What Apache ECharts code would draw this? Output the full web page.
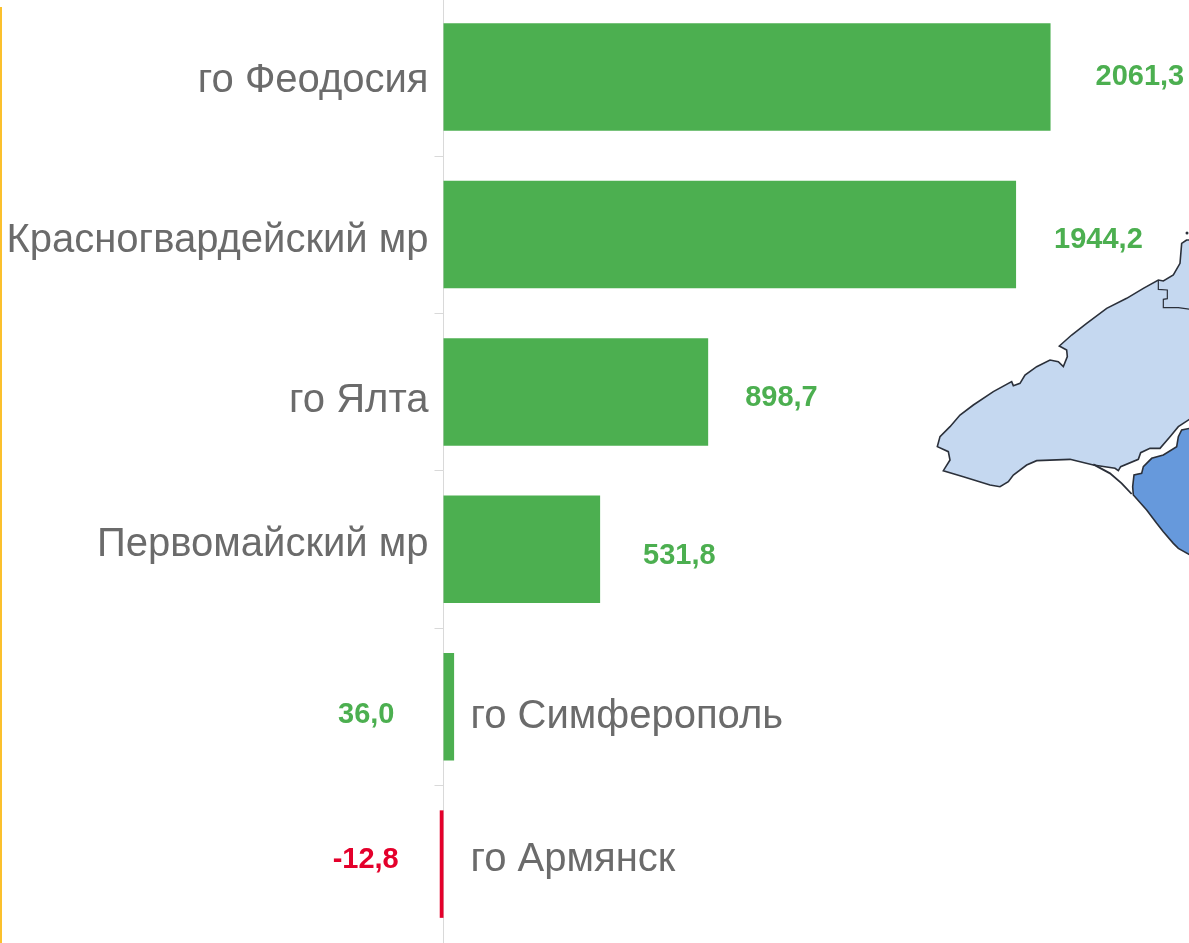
<!DOCTYPE html>
<html>
<head>
<meta charset="utf-8">
<style>
html,body{margin:0;padding:0;background:#fff;overflow:hidden;height:943px;}
/* canvas starts 2px above the page, the top axis tick is cropped in the source */
#chart{width:1189px;height:945px;margin-top:-2px;}
</style>
<script src="https://cdn.jsdelivr.net/npm/echarts@6/dist/echarts.min.js"></script>
</head>
<body>
<div id="chart"></div>
<script>
// chart data
var categories = ['го Феодосия', 'Красногвардейский мр', 'го Ялта', 'Первомайский мр', 'го Симферополь', 'го Армянск'];
var values = [2061.3, 1944.2, 898.7, 531.8, 36.0, -12.8];

var GREEN = '#4CAF50', RED = '#E4002B', GREY = '#6B6B6B';
var FONT = '"Liberation Sans", Arial, sans-serif';

// hand placed labels, the source chart has them all over the place
var valueLabelLayout = [
	{position: 'right', distance: 45, offset: [0, -0.5]},
	{position: 'right', distance: 38, offset: [0, 5]},
	{position: 'right', distance: 37, offset: [0, 6]},
	{position: 'right', distance: 43, offset: [0, 7]},
	{position: 'left', distance: 49, offset: [0, 8.5]},
	{position: 'left', distance: 41, offset: [0, -4]}
];
var nameLabelLayout = [
	{position: 'left', distance: 15, offset: [0, 3.5]},
	{position: 'left', distance: 15, offset: [0, 6]},
	{position: 'left', distance: 15, offset: [0, 9]},
	{position: 'left', distance: 15, offset: [0, -4]},
	{position: 'right', distance: 27, offset: [0, 10.5]},
	{position: 'right', distance: 27, offset: [0, -4]}
];

// map fragment behind the bars, traced by hand (not data)
var landOutline = [[770,60],[755,70],[750,130],[730,165],[700,183],[685,180],[640,205],[590,235],[530,265],[470,310],[425,345],[388,378],[410,390],[412,410],[400,440],[385,425],[360,420],[320,440],[285,465],[270,490],[250,497],[245,485],[190,515],[130,555],[90,585],[60,620],[30,650],[22,680],[55,695],[60,720],[40,752],[100,770],[180,795],[210,800],[235,785],[250,765],[290,735],[320,722],[420,718],[490,735],[555,745],[565,752],[572,740],[625,718],[632,698],[660,685],[690,685],[720,650],[745,620],[780,597],[780,60]];
var landBorder = [[685,180],[685,208],[712,210],[712,236],[700,238],[700,263],[745,263],[780,268]];
var darkOutline = [[780,625],[755,630],[745,650],[740,680],[700,705],[665,715],[640,740],[635,760],[612,765],[608,800],[610,825],[650,870],[680,910],[700,935],[730,970],[745,985],[780,1005]];
var sandSpit = [[490,733],[540,760],[575,790],[605,822]];

function toPx(list){
	return list.map(function(p){ return [930 + p[0] / 3, 222 + p[1] / 3]; });
}

var myChart = echarts.init(document.getElementById('chart'));
var option = {
	animation: false,
	backgroundColor: '#fff',
	grid: {left: 149, top: 0.4, width: 1030.75, height: 944.4},
	xAxis: {type: 'value', min: -1000, max: 2500, show: false},
	yAxis: {
		type: 'category',
		inverse: true,
		data: categories,
		axisLine: {lineStyle: {color: '#D9D9D9', width: 1}},
		axisTick: {show: true, length: 9, lineStyle: {color: '#D9D9D9'}},
		axisLabel: {show: false}
	},
	graphic: [
		{type: 'rect', z: 0, shape: {x: 0, y: 9, width: 2, height: 936}, style: {fill: '#FBC02D'}},
		{type: 'polygon', z: 0, shape: {points: toPx(landOutline)}, style: {fill: '#C5D8F0', stroke: '#2B303A', lineWidth: 1.6}},
		{type: 'polygon', z: 0, shape: {points: toPx(darkOutline)}, style: {fill: '#6699DC', stroke: '#2B303A', lineWidth: 1.6}},
		{type: 'polyline', z: 0, shape: {points: toPx(landBorder)}, style: {fill: 'none', stroke: '#2B303A', lineWidth: 1.2}},
		{type: 'polyline', z: 0, shape: {points: toPx(sandSpit)}, style: {fill: 'none', stroke: '#2B303A', lineWidth: 1.8}},
		{type: 'circle', z: 0, shape: {cx: 1187, cy: 235, r: 1.5}, style: {fill: '#2B303A'}}
	],
	series: [
		{
			type: 'bar',
			barWidth: 107.5,
			barGap: '-100%',
			data: values.map(function(v, i){
				var color = v < 0 ? RED : GREEN;
				var lay = valueLabelLayout[i];
				return {
					value: v,
					itemStyle: {color: color},
					label: {
						show: true,
						position: lay.position,
						distance: lay.distance,
						offset: lay.offset,
						color: color,
						fontFamily: FONT,
						fontWeight: 'bold',
						fontSize: 29,
						formatter: v.toFixed(1).replace('.', ',')
					}
				};
			})
		},
		{
			// zero length bars, only here to carry the category names
			type: 'bar',
			barWidth: 107.5,
			barGap: '-100%',
			silent: true,
			itemStyle: {color: 'transparent'},
			data: categories.map(function(name, i){
				var lay = nameLabelLayout[i];
				return {
					value: 0,
					label: {
						show: true,
						position: lay.position,
						distance: lay.distance,
						offset: lay.offset,
						color: GREY,
						fontFamily: FONT,
						fontSize: 40,
						formatter: name
					}
				};
			})
		}
	]
};
myChart.setOption(option);
</script>
</body>
</html>
